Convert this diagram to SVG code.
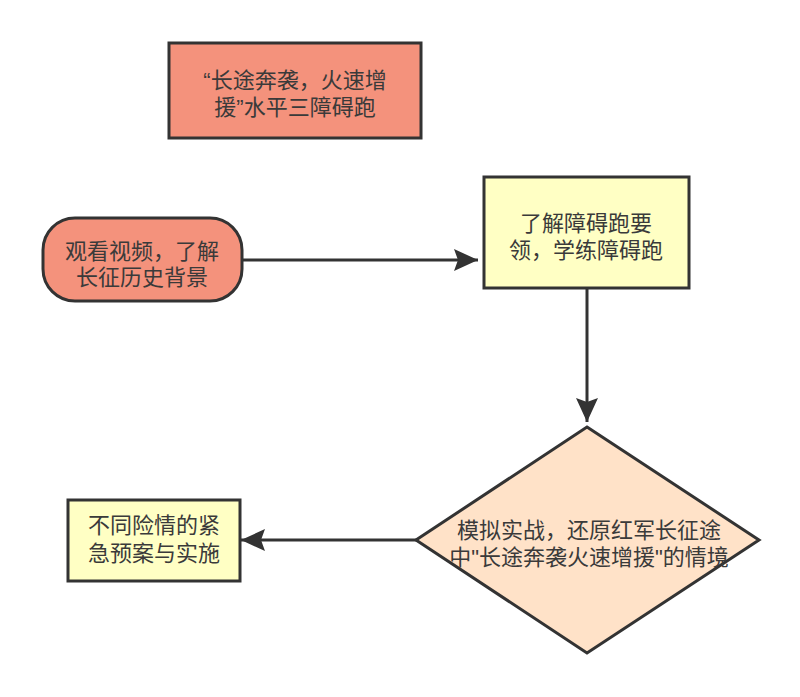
<svg xmlns="http://www.w3.org/2000/svg" width="800" height="697" viewBox="0 0 800 697">
<style>
.n{stroke:#333;stroke-width:3}
.t{font-family:"Liberation Sans","Noto Sans CJK SC",sans-serif;font-size:22px;fill:#3a3a3a;text-anchor:middle}
.c{fill:none;stroke:#333;stroke-width:3}
</style>
<defs>
<marker id="ah" markerUnits="userSpaceOnUse" markerWidth="26" markerHeight="24" refX="24" refY="11" orient="auto">
<path d="M0,0 L24,11 L0,22 L4,11 Z" fill="#333"/>
</marker>
</defs>
<rect width="800" height="697" fill="#fff"/>
<g id="connectors">
<path class="c" d="M242,260 L478,260" marker-end="url(#ah)"/>
<path class="c" d="M587,288 L587,422" marker-end="url(#ah)"/>
<path class="c" d="M416,540 L241,540" marker-end="url(#ah)"/>
</g>
<g id="title">
<rect class="n" x="169" y="43" width="252" height="95" fill="#F4927C"/>
<text class="t" x="295" y="88">“长途奔袭，火速增</text>
<text class="t" x="295" y="115">援”水平三障碍跑</text>
</g>
<g id="start">
<rect class="n" x="43" y="218" width="199" height="83" rx="32" ry="32" fill="#F4927C"/>
<text class="t" x="142" y="259">观看视频，了解</text>
<text class="t" x="142" y="285">长征历史背景</text>
</g>
<g id="learn">
<rect class="n" x="484" y="177" width="205" height="111" fill="#FFFFC4"/>
<text class="t" x="586" y="231">了解障碍跑要</text>
<text class="t" x="586" y="258">领，学练障碍跑</text>
</g>
<g id="simulate">
<polygon class="n" points="587,427 759,540 587,653 416,540" fill="#FFE2C8"/>
<text class="t" x="589" y="538">模拟实战，还原红军长征途</text>
<text class="t" x="589" y="565">中"长途奔袭火速增援"的情境</text>
</g>
<g id="plan">
<rect class="n" x="68" y="500" width="172" height="81" fill="#FFFFC4"/>
<text class="t" x="154" y="533">不同险情的紧</text>
<text class="t" x="154" y="561">急预案与实施</text>
</g>
</svg>
